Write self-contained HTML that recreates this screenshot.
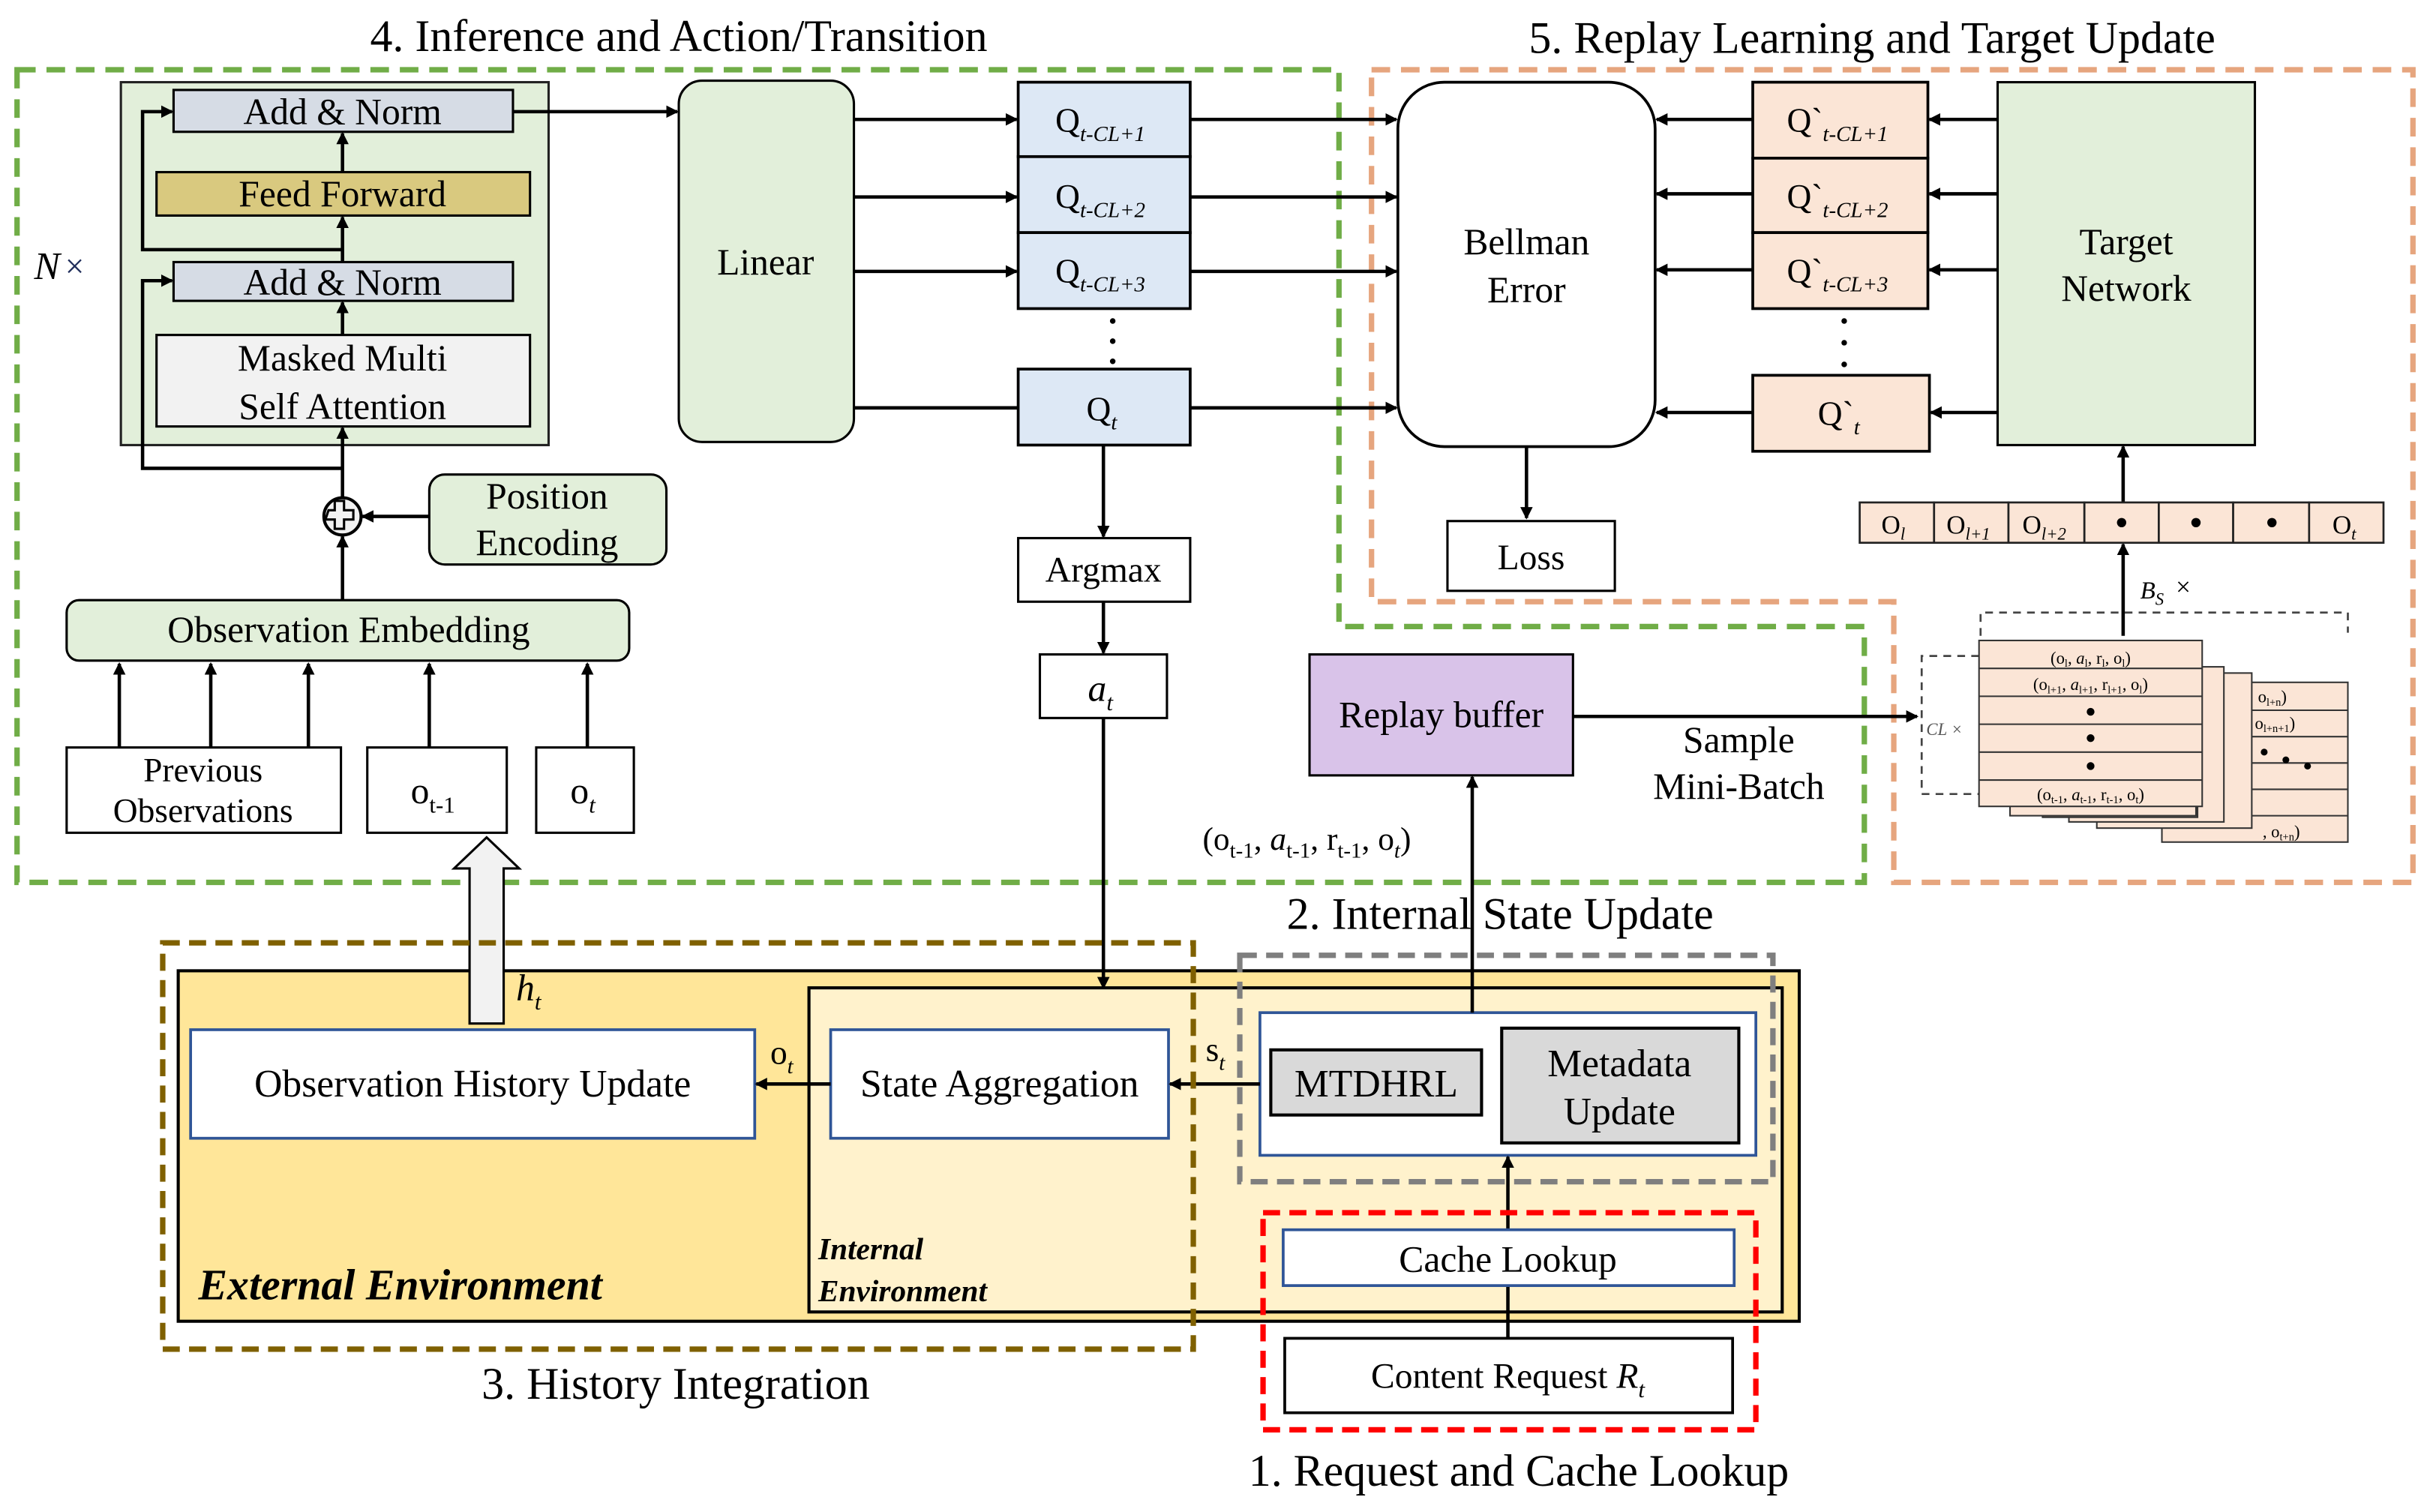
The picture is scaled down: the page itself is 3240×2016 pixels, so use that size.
<!DOCTYPE html>
<html><head><meta charset="utf-8"><style>
html,body{margin:0;padding:0;background:#fff}
svg{display:block}
</style></head><body>
<svg width="3240" height="2016" viewBox="0 0 1568 975" preserveAspectRatio="none" xmlns="http://www.w3.org/2000/svg" font-family="'Liberation Serif', 'Times New Roman', 'DejaVu Serif', serif">
<defs>
<marker id="a" markerWidth="8" markerHeight="8" refX="7" refY="4" orient="auto" markerUnits="userSpaceOnUse"><path d="M0,0 L8,4 L0,8 z" fill="#000"/></marker>
</defs>
<rect width="1568" height="975" fill="#fff"/>

<text x="438" y="33" font-size="29" text-anchor="middle">4. Inference and Action/Transition</text>
<text x="1208" y="34" font-size="29" text-anchor="middle">5. Replay Learning and Target Update</text>

<polygon points="11,45 864,45 864,404 1203,404 1203,569 11,569" fill="none" stroke="#70ad47" stroke-width="3.5" stroke-dasharray="12,7"/>
<polygon points="885,45 1557,45 1557,569 1222,569 1222,388 885,388" fill="none" stroke="#e6a57e" stroke-width="3.5" stroke-dasharray="12,7"/>

<rect x="78" y="53" width="276" height="234" fill="#e2efda" stroke="#222" stroke-width="1.5"/>
<rect x="112" y="58" width="219" height="27" fill="#d6dce5" stroke="#000" stroke-width="1.5"/>
<text x="221" y="80" font-size="24" text-anchor="middle">Add &amp; Norm</text>
<rect x="101" y="111" width="241" height="28" fill="#d9c97f" stroke="#000" stroke-width="1.5"/>
<text x="221" y="133" font-size="24" text-anchor="middle">Feed Forward</text>
<rect x="112" y="169" width="219" height="25" fill="#d6dce5" stroke="#000" stroke-width="1.5"/>
<text x="221" y="190" font-size="24" text-anchor="middle">Add &amp; Norm</text>
<rect x="101" y="216" width="241" height="59" fill="#f2f2f2" stroke="#000" stroke-width="1.5"/>
<text x="221" y="239" font-size="24" text-anchor="middle">Masked Multi</text>
<text x="221" y="270" font-size="24" text-anchor="middle">Self Attention</text>
<text x="22" y="180" font-size="25" font-style="italic">N</text><text x="42" y="179" font-size="22" fill="#1f2d5a">×</text>
<g stroke="#000" stroke-width="2.2" fill="none">
<line x1="221" y1="111" x2="221" y2="86" marker-end="url(#a)"/>
<line x1="221" y1="169" x2="221" y2="140" marker-end="url(#a)"/>
<line x1="221" y1="216" x2="221" y2="195" marker-end="url(#a)"/>
<polyline points="221,161 92,161 92,72 111,72" marker-end="url(#a)"/>
<polyline points="221,302 92,302 92,181 111,181" marker-end="url(#a)"/>
<line x1="221" y1="321" x2="221" y2="276" marker-end="url(#a)"/>
<line x1="221" y1="387" x2="221" y2="346" marker-end="url(#a)"/>
<line x1="277" y1="333" x2="234" y2="333" marker-end="url(#a)"/>
<line x1="331" y1="72" x2="437" y2="72" marker-end="url(#a)"/>
</g>
<circle cx="221" cy="333" r="12" fill="#f2f2f2" stroke="#000" stroke-width="2"/>
<path d="M214,327 h4 v-6 h6 v6 h6 v6 h-6 v6 h-6 v-6 h-6 z" fill="none" stroke="#000" stroke-width="1.5" transform="translate(-2,2)"/>
<rect x="277" y="306" width="153" height="58" rx="10" fill="#e2efda" stroke="#000" stroke-width="1.5"/>
<text x="353" y="328" font-size="24" text-anchor="middle">Position</text>
<text x="353" y="358" font-size="24" text-anchor="middle">Encoding</text>
<rect x="43" y="387" width="363" height="39" rx="8" fill="#e2efda" stroke="#000" stroke-width="1.5"/>
<text x="225" y="414" font-size="24" text-anchor="middle">Observation Embedding</text>
<g stroke="#000" stroke-width="2.2">
<line x1="77" y1="482" x2="77" y2="428" marker-end="url(#a)"/>
<line x1="136" y1="482" x2="136" y2="428" marker-end="url(#a)"/>
<line x1="199" y1="482" x2="199" y2="428" marker-end="url(#a)"/>
<line x1="277" y1="482" x2="277" y2="428" marker-end="url(#a)"/>
<line x1="379" y1="482" x2="379" y2="428" marker-end="url(#a)"/>
</g>
<rect x="43" y="482" width="177" height="55" fill="#fff" stroke="#000" stroke-width="1.5"/>
<text x="131" y="504" font-size="22" text-anchor="middle">Previous</text>
<text x="131" y="530" font-size="22" text-anchor="middle">Observations</text>
<rect x="237" y="482" width="90" height="55" fill="#fff" stroke="#000" stroke-width="1.5"/>
<text x="265" y="518" font-size="24">o<tspan font-size="15" dy="6">t-1</tspan></text>
<rect x="346" y="482" width="63" height="55" fill="#fff" stroke="#000" stroke-width="1.5"/>
<text x="368" y="518" font-size="24">o<tspan font-size="15" dy="6" font-style="italic">t</tspan></text>

<rect x="438" y="52" width="113" height="233" rx="15" fill="#e2efda" stroke="#000" stroke-width="1.5"/>
<text x="494" y="177" font-size="24" text-anchor="middle">Linear</text>
<g fill="#dde8f5" stroke="#000" stroke-width="1.8">
<rect x="657" y="53" width="111" height="48"/><rect x="657" y="101" width="111" height="49"/><rect x="657" y="150" width="111" height="49"/><rect x="657" y="238" width="111" height="49"/>
</g>
<text x="681" y="85" font-size="22">Q<tspan font-size="14" dy="6" font-style="italic">t-CL+1</tspan></text>
<text x="681" y="134" font-size="22">Q<tspan font-size="14" dy="6" font-style="italic">t-CL+2</tspan></text>
<text x="681" y="182" font-size="22">Q<tspan font-size="14" dy="6" font-style="italic">t-CL+3</tspan></text>
<text x="701" y="271" font-size="22">Q<tspan font-size="14" dy="6" font-style="italic">t</tspan></text>
<g fill="#000"><circle cx="718" cy="207" r="1.8"/><circle cx="718" cy="220" r="1.8"/><circle cx="718" cy="233" r="1.8"/>
<circle cx="1190" cy="207" r="1.8"/><circle cx="1190" cy="221" r="1.8"/><circle cx="1190" cy="235" r="1.8"/></g>
<g stroke="#000" stroke-width="2.2">
<line x1="551" y1="77" x2="656" y2="77" marker-end="url(#a)"/>
<line x1="551" y1="127" x2="656" y2="127" marker-end="url(#a)"/>
<line x1="551" y1="175" x2="656" y2="175" marker-end="url(#a)"/>
<line x1="551" y1="263" x2="657" y2="263"/>
<line x1="768" y1="77" x2="901" y2="77" marker-end="url(#a)"/>
<line x1="768" y1="127" x2="901" y2="127" marker-end="url(#a)"/>
<line x1="768" y1="175" x2="901" y2="175" marker-end="url(#a)"/>
<line x1="768" y1="263" x2="901" y2="263" marker-end="url(#a)"/>
<line x1="712" y1="287" x2="712" y2="346" marker-end="url(#a)"/>
<line x1="712" y1="388" x2="712" y2="421" marker-end="url(#a)"/>
</g>
<rect x="657" y="347" width="111" height="41" fill="#fff" stroke="#000" stroke-width="1.5"/>
<text x="712" y="375" font-size="23" text-anchor="middle">Argmax</text>
<rect x="671" y="422" width="82" height="41" fill="#fff" stroke="#000" stroke-width="1.5"/>
<text x="702" y="452" font-size="24" font-style="italic">a<tspan font-size="15" dy="6">t</tspan></text>

<rect x="902" y="53" width="166" height="235" rx="30" fill="#fff" stroke="#000" stroke-width="1.8"/>
<text x="985" y="164" font-size="24" text-anchor="middle">Bellman</text>
<text x="985" y="195" font-size="24" text-anchor="middle">Error</text>
<line x1="985" y1="288" x2="985" y2="334" stroke="#000" stroke-width="2.2" marker-end="url(#a)"/>
<rect x="934" y="336" width="108" height="45" fill="#fff" stroke="#000" stroke-width="1.5"/>
<text x="988" y="367" font-size="23" text-anchor="middle">Loss</text>
<g fill="#fbe5d6" stroke="#000" stroke-width="1.8">
<rect x="1131" y="53" width="113" height="49"/><rect x="1131" y="102" width="113" height="48"/><rect x="1131" y="150" width="113" height="49"/><rect x="1131" y="242" width="114" height="49"/>
</g>
<text x="1153" y="85" font-size="22">Q`<tspan font-size="14" dy="6" font-style="italic">t-CL+1</tspan></text>
<text x="1153" y="134" font-size="22">Q`<tspan font-size="14" dy="6" font-style="italic">t-CL+2</tspan></text>
<text x="1153" y="182" font-size="22">Q`<tspan font-size="14" dy="6" font-style="italic">t-CL+3</tspan></text>
<text x="1173" y="274" font-size="22">Q`<tspan font-size="14" dy="6" font-style="italic">t</tspan></text>
<rect x="1289" y="53" width="166" height="234" fill="#e2efda" stroke="#000" stroke-width="1.5"/>
<text x="1372" y="164" font-size="24" text-anchor="middle">Target</text>
<text x="1372" y="194" font-size="24" text-anchor="middle">Network</text>
<g stroke="#000" stroke-width="2.2">
<line x1="1131" y1="77" x2="1069" y2="77" marker-end="url(#a)"/>
<line x1="1131" y1="125" x2="1069" y2="125" marker-end="url(#a)"/>
<line x1="1131" y1="174" x2="1069" y2="174" marker-end="url(#a)"/>
<line x1="1131" y1="266" x2="1069" y2="266" marker-end="url(#a)"/>
<line x1="1289" y1="77" x2="1245" y2="77" marker-end="url(#a)"/>
<line x1="1289" y1="125" x2="1245" y2="125" marker-end="url(#a)"/>
<line x1="1289" y1="174" x2="1245" y2="174" marker-end="url(#a)"/>
<line x1="1289" y1="266" x2="1246" y2="266" marker-end="url(#a)"/>
<line x1="1370" y1="324" x2="1370" y2="288" marker-end="url(#a)"/>
<line x1="1370" y1="410" x2="1370" y2="351" marker-end="url(#a)"/>
</g>
<g fill="#fbe5d6" stroke="#222" stroke-width="1.3">
<rect x="1200" y="324" width="48" height="26"/><rect x="1248" y="324" width="48" height="26"/><rect x="1296" y="324" width="49" height="26"/><rect x="1345" y="324" width="48" height="26"/><rect x="1393" y="324" width="48" height="26"/><rect x="1441" y="324" width="49" height="26"/><rect x="1490" y="324" width="48" height="26"/>
</g>
<text x="1214" y="344" font-size="17">O<tspan font-size="11" dy="4" font-style="italic">l</tspan></text>
<text x="1256" y="344" font-size="17">O<tspan font-size="11" dy="4" font-style="italic">l+1</tspan></text>
<text x="1305" y="344" font-size="17">O<tspan font-size="11" dy="4" font-style="italic">l+2</tspan></text>
<g fill="#000"><circle cx="1369" cy="337" r="3"/><circle cx="1417" cy="337" r="3"/><circle cx="1466" cy="337" r="3"/></g>
<text x="1505" y="344" font-size="17">O<tspan font-size="11" dy="4" font-style="italic">t</tspan></text>
<text x="1381" y="386" font-size="16" font-style="italic">B<tspan font-size="11" dy="4">S</tspan></text><text x="1404" y="384" font-size="17">×</text>
<polyline points="1278,410 1278,395 1515,395 1515,408" fill="none" stroke="#444" stroke-width="1.3" stroke-dasharray="5,4"/>
<polyline points="1277,423 1240,423 1240,512 1277,512" fill="none" stroke="#444" stroke-width="1.3" stroke-dasharray="5,4"/>
<text x="1243" y="474" font-size="11" font-style="italic" fill="#555">CL ×</text>
<g fill="#fbe5d6" stroke="#333" stroke-width="1">
<rect x="1395" y="440" width="120" height="103"/>
<rect x="1353" y="434" width="100" height="100"/>
<rect x="1335" y="430" width="100" height="100"/>
<rect x="1318" y="427" width="100" height="100"/>
<rect x="1297" y="420" width="120" height="106"/>
<rect x="1277" y="413" width="144" height="107"/>
<line x1="1277" y1="431" x2="1421" y2="431"/><line x1="1277" y1="449" x2="1421" y2="449"/><line x1="1277" y1="467" x2="1421" y2="467"/><line x1="1277" y1="485" x2="1421" y2="485"/><line x1="1277" y1="503" x2="1421" y2="503"/>
<line x1="1453" y1="458" x2="1515" y2="458"/><line x1="1453" y1="475" x2="1515" y2="475"/><line x1="1453" y1="492" x2="1515" y2="492"/><line x1="1453" y1="509" x2="1515" y2="509"/><line x1="1453" y1="526" x2="1515" y2="526"/>
</g>
<text x="1349" y="428" font-size="11" text-anchor="middle">(o<tspan font-size="7" dy="2">l</tspan><tspan dy="-2">, </tspan><tspan font-style="italic">a</tspan><tspan font-size="7" dy="2">l</tspan><tspan dy="-2">, r</tspan><tspan font-size="7" dy="2">l</tspan><tspan dy="-2">, o</tspan><tspan font-size="7" dy="2">l</tspan><tspan dy="-2">)</tspan></text>
<text x="1349" y="445" font-size="11" text-anchor="middle">(o<tspan font-size="7" dy="2">l+1</tspan><tspan dy="-2">, </tspan><tspan font-style="italic">a</tspan><tspan font-size="7" dy="2">l+1</tspan><tspan dy="-2">, r</tspan><tspan font-size="7" dy="2">l+1</tspan><tspan dy="-2">, o</tspan><tspan font-size="7" dy="2">l</tspan><tspan dy="-2">)</tspan></text>
<g fill="#000"><circle cx="1349" cy="459" r="2.5"/><circle cx="1349" cy="476" r="2.5"/><circle cx="1349" cy="494" r="2.5"/>
<circle cx="1461" cy="485" r="2.2"/><circle cx="1475" cy="490" r="2.2"/><circle cx="1489" cy="494" r="2.2"/></g>
<text x="1349" y="516" font-size="11" text-anchor="middle">(o<tspan font-size="7" dy="2">t-1</tspan><tspan dy="-2">, </tspan><tspan font-style="italic">a</tspan><tspan font-size="7" dy="2">t-1</tspan><tspan dy="-2">, r</tspan><tspan font-size="7" dy="2">t-1</tspan><tspan dy="-2">, o</tspan><tspan font-size="7" dy="2">t</tspan><tspan dy="-2">)</tspan></text>
<text x="1457" y="453" font-size="11">o<tspan font-size="7" dy="2">l+n</tspan><tspan dy="-2">)</tspan></text>
<text x="1455" y="470" font-size="11">o<tspan font-size="7" dy="2">l+n+1</tspan><tspan dy="-2">)</tspan></text>
<text x="1460" y="540" font-size="11">, o<tspan font-size="7" dy="2">t+n</tspan><tspan dy="-2">)</tspan></text>

<rect x="845" y="422" width="170" height="78" fill="#d9c3e9" stroke="#000" stroke-width="1.5"/>
<text x="930" y="469" font-size="24" text-anchor="middle">Replay buffer</text>
<line x1="1015" y1="462" x2="1237" y2="462" stroke="#000" stroke-width="2.2" marker-end="url(#a)"/>
<text x="1122" y="485" font-size="24" text-anchor="middle">Sample</text>
<text x="1122" y="515" font-size="24" text-anchor="middle">Mini-Batch</text>
<text x="776" y="548" font-size="21">(o<tspan font-size="14" dy="5">t-1</tspan><tspan dy="-5">, </tspan><tspan font-style="italic">a</tspan><tspan font-size="14" dy="5">t-1</tspan><tspan dy="-5">, r</tspan><tspan font-size="14" dy="5">t-1</tspan><tspan dy="-5">, o</tspan><tspan font-size="14" dy="5" font-style="italic">t</tspan><tspan dy="-5">)</tspan></text>

<rect x="115" y="626" width="1046" height="226" fill="#ffe699" stroke="#000" stroke-width="2"/>
<rect x="522" y="637" width="628" height="209" fill="#fff2cc" stroke="#000" stroke-width="2"/>
<rect x="813" y="653" width="320" height="92" fill="#fff" stroke="#2f5597" stroke-width="1.8"/>
<rect x="820" y="677" width="136" height="42" fill="#d9d9d9" stroke="#000" stroke-width="2"/>
<text x="888" y="707" font-size="25" text-anchor="middle">MTDHRL</text>
<rect x="969" y="663" width="153" height="74" fill="#d9d9d9" stroke="#000" stroke-width="2"/>
<text x="1045" y="694" font-size="25" text-anchor="middle">Metadata</text>
<text x="1045" y="725" font-size="25" text-anchor="middle">Update</text>
<rect x="123" y="664" width="364" height="70" fill="#fff" stroke="#2f5597" stroke-width="1.8"/>
<text x="305" y="707" font-size="25" text-anchor="middle">Observation History Update</text>
<rect x="536" y="664" width="218" height="70" fill="#fff" stroke="#2f5597" stroke-width="1.8"/>
<text x="645" y="707" font-size="25" text-anchor="middle">State Aggregation</text>
<path d="M303,660 V560 H293 L314,540 L335,560 H325 V660 z" fill="#f2f2f2" stroke="#000" stroke-width="1.5"/>
<text x="333" y="645" font-size="24" font-style="italic">h<tspan font-size="15" dy="6">t</tspan></text>
<g stroke="#000" stroke-width="2.2">
<line x1="712" y1="463" x2="712" y2="637" marker-end="url(#a)"/>
<line x1="813" y1="699" x2="755" y2="699" marker-end="url(#a)"/>
<line x1="536" y1="699" x2="488" y2="699" marker-end="url(#a)"/>
<line x1="950" y1="653" x2="950" y2="501" marker-end="url(#a)"/>
<line x1="973" y1="863" x2="973" y2="829"/>
<line x1="973" y1="793" x2="973" y2="746" marker-end="url(#a)"/>
</g>
<text x="778" y="684" font-size="22">s<tspan font-size="14" dy="6" font-style="italic">t</tspan></text>
<text x="497" y="686" font-size="22">o<tspan font-size="14" dy="6" font-style="italic">t</tspan></text>
<rect x="800" y="616" width="344" height="146" fill="none" stroke="#7f7f7f" stroke-width="3.5" stroke-dasharray="11,6"/>
<rect x="105" y="608" width="665" height="262" fill="none" stroke="#7f6000" stroke-width="3.5" stroke-dasharray="11,6"/>
<rect x="828" y="793" width="291" height="36" fill="#fff" stroke="#2f5597" stroke-width="1.8"/>
<text x="973" y="820" font-size="24" text-anchor="middle">Cache Lookup</text>
<rect x="829" y="863" width="289" height="48" fill="#fff" stroke="#000" stroke-width="1.8"/>
<text x="973" y="895" font-size="23" text-anchor="middle">Content Request <tspan font-style="italic">R</tspan><tspan font-size="15" dy="6" font-style="italic">t</tspan></text>
<rect x="815" y="782" width="318" height="140" fill="none" stroke="#ff0000" stroke-width="3.5" stroke-dasharray="11,6"/>
<text x="128" y="838" font-size="28" font-weight="bold" font-style="italic">External Environment</text>
<text x="528" y="812" font-size="20" font-weight="bold" font-style="italic">Internal</text>
<text x="528" y="839" font-size="20" font-weight="bold" font-style="italic">Environment</text>
<text x="968" y="599" font-size="29" text-anchor="middle">2. Internal State Update</text>
<text x="436" y="902" font-size="29" text-anchor="middle">3. History Integration</text>
<text x="980" y="958" font-size="29" text-anchor="middle">1. Request and Cache Lookup</text>
</svg>
</body></html>
